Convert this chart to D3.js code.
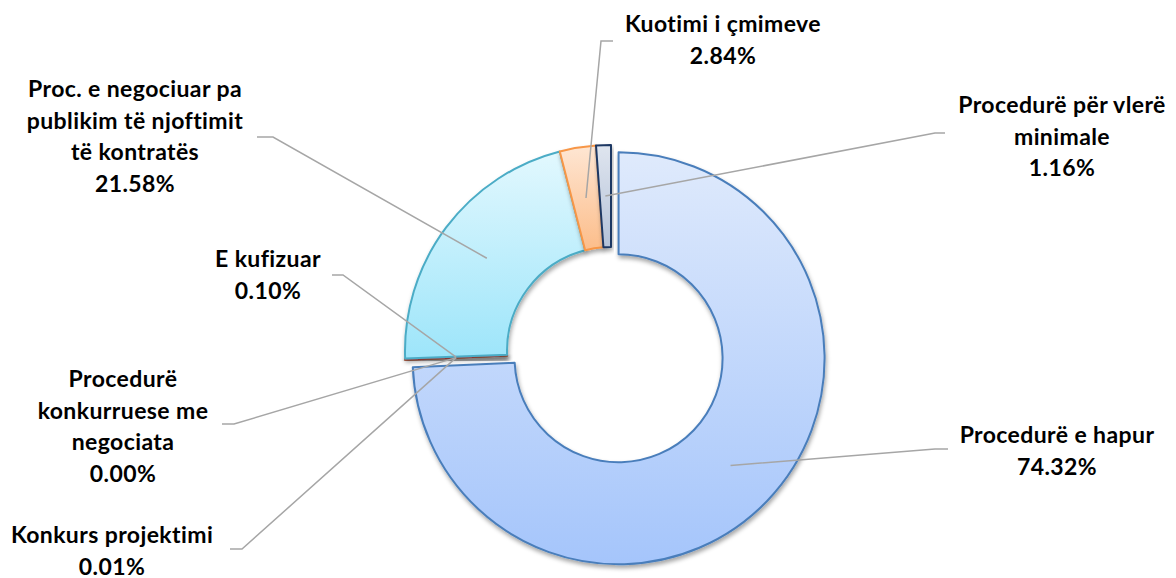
<!DOCTYPE html>
<html>
<head>
<meta charset="utf-8">
<script src="https://cdn.jsdelivr.net/npm/d3@7"></script>
<style>
  body { margin: 0; background: #fff; }
  text { font-family: Lato, "Open Sans", sans-serif; font-weight: bold; fill: #000; }
</style>
</head>
<body>
<div id="chart"></div>
<script>
// procedure types and their share of contract value (%)
var categories = ["Procedurë e hapur", "Konkurs projektimi", "Procedurë konkurruese me negociata",
  "E kufizuar", "Proc. e negociuar pa publikim të njoftimit të kontratës", "Kuotimi i çmimeve",
  "Procedurë për vlerë minimale"];
var values = [74.32, 0.01, 0.00, 0.10, 21.58, 2.84, 1.16];
var valueLabels = ["74.32%", "0.01%", "0.00%", "0.10%", "21.58%", "2.84%", "1.16%"];
// how the category name is wrapped in the label box
var labelLines = [
  ["Procedurë e hapur"],
  ["Konkurs projektimi"],
  ["Procedurë", "konkurruese me", "negociata"],
  ["E kufizuar"],
  ["Proc. e negociuar pa", "publikim të njoftimit", "të kontratës"],
  ["Kuotimi i çmimeve"],
  ["Procedurë për vlerë", "minimale"]
];

// layout of label boxes: center x, first baseline, leader start x/elbow x/y
var labelPos = [
  {x: 1057, y: 443, lx: 948, ex: 935, ly: 449},
  {x: 112, y: 543, lx: 230, ex: 242, ly: 549},
  {x: 123, y: 387, lx: 222, ex: 234, ly: 424},
  {x: 268, y: 267, lx: 332, ex: 343, ly: 275},
  {x: 135, y: 97, lx: 257, ex: 273, ly: 137},
  {x: 723, y: 32, lx: 613, ex: 601, ly: 41},
  {x: 1062, y: 113, lx: 945, ex: 935, ly: 133}
];

var fills = [
  ["#dfeafc", "#a5c5fb", "#4a7ebb"],
  ["#fbe0e0", "#f0a0a0", "#c0504d"],
  ["#eaf1dd", "#c3d69b", "#9bbb59"],
  ["#fbe0e0", "#f0a0a0", "#c0504d"],
  ["#e2f8fe", "#9de5fa", "#4bacc6"],
  ["#fee6d3", "#fcbd8a", "#f79646"],
  ["#dfe5ef", "#b4c2d8", "#1f3864"]
];

var width = 1176, height = 578;
var cx = 611, cy = 351;
var outerR = 206, innerR = 104;
var explode = 10.5;
var lineH = 31.5;

var svg = d3.select("#chart").append("svg")
  .attr("width", width)
  .attr("height", height);

var defs = svg.append("defs");
defs.append("filter").attr("id", "shadow")
  .attr("x", "-10%").attr("y", "-10%").attr("width", "130%").attr("height", "130%")
  .append("feDropShadow")
  .attr("dx", 1).attr("dy", 3).attr("stdDeviation", 2)
  .attr("flood-color", "#000").attr("flood-opacity", 0.35);

fills.forEach(function(f, i){
  var g = defs.append("linearGradient").attr("id", "grad" + i)
    .attr("x1", 0).attr("y1", 0).attr("x2", 0).attr("y2", 1);
  g.append("stop").attr("offset", "0%").attr("stop-color", f[0]);
  g.append("stop").attr("offset", "100%").attr("stop-color", f[1]);
});

var data = categories.map(function(c, i){ return {name: c, value: values[i], i: i}; });

var pie = d3.pie().sort(null).value(function(d){ return d.value; });
var arc = d3.arc().innerRadius(innerR).outerRadius(outerR);
var arcs = pie(data);

function offset(d){
  if(d.index != 0) return [0, 0];
  var a = (d.startAngle + d.endAngle) / 2;
  return [Math.sin(a) * explode, -Math.cos(a) * explode];
}

var chart = svg.append("g").attr("transform", "translate(" + cx + "," + cy + ")");

chart.selectAll("path.slice")
  .data(arcs)
  .enter()
  .append("path")
  .attr("class", "slice")
  .attr("transform", function(d){ var o = offset(d); return "translate(" + o[0] + "," + o[1] + ")"; })
  .attr("d", arc)
  .attr("fill", function(d){ return "url(#grad" + d.index + ")"; })
  .attr("stroke", function(d){ return fills[d.index][2]; })
  .attr("stroke-width", 2)
  .attr("stroke-linejoin", "round")
  .attr("filter", "url(#shadow)");

// leader lines from label to the middle of each slice
svg.selectAll("polyline.leader")
  .data(arcs)
  .enter()
  .append("polyline")
  .attr("class", "leader")
  .attr("points", function(d){
    var p = labelPos[d.index];
    var c = arc.centroid(d), o = offset(d);
    return [[p.lx, p.ly], [p.ex, p.ly], [cx + c[0] + o[0], cy + c[1] + o[1]]].join(" ");
  })
  .attr("fill", "none")
  .attr("stroke", "#a6a6a6")
  .attr("stroke-width", 1.5);

var labels = svg.selectAll("text.label")
  .data(arcs)
  .enter()
  .append("text")
  .attr("class", "label")
  .attr("text-anchor", "middle")
  .attr("font-size", 23)
  .attr("letter-spacing", 0.4);

labels.each(function(d){
  var p = labelPos[d.index];
  var lines = labelLines[d.index].concat([valueLabels[d.index]]);
  var t = d3.select(this);
  lines.forEach(function(l, k){
    t.append("tspan").attr("x", p.x).attr("y", p.y + k * lineH).text(l);
  });
});
</script>
</body>
</html>
